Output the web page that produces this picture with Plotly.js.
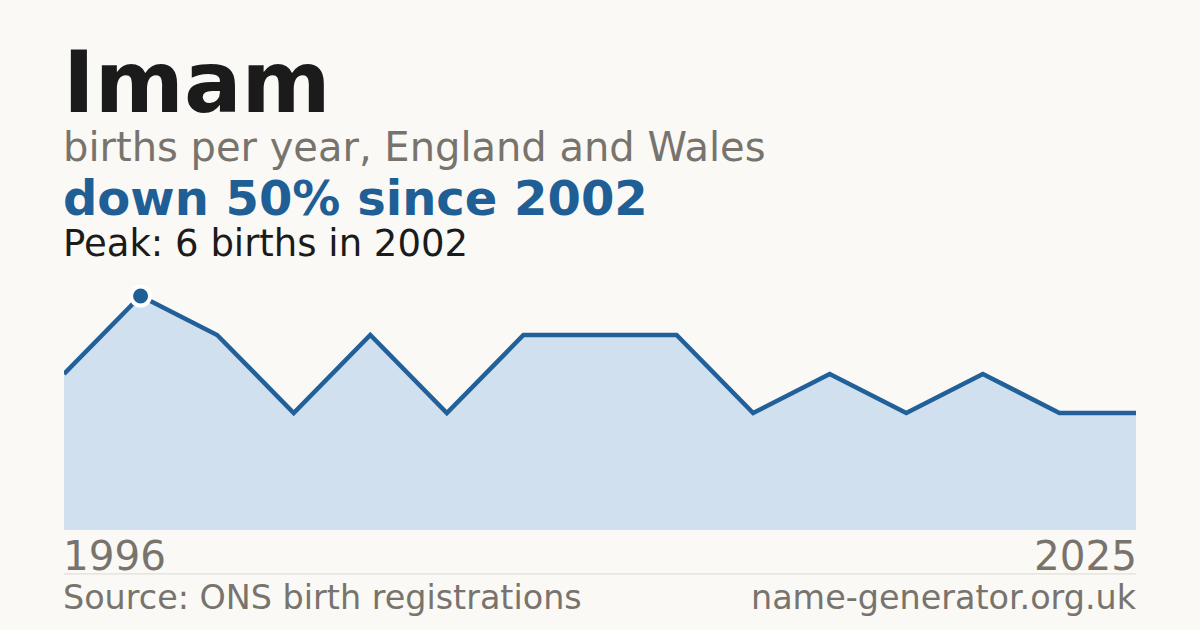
<!DOCTYPE html>
<html>
<head>
<meta charset="utf-8">
<script src="https://cdn.plot.ly/plotly-3.0.1.min.js"></script>
<style>
html,body{margin:0;padding:0;background:#faf9f5;}
#chart{width:1200px;height:630px;}
</style>
</head>
<body>
<div id="chart"></div>
<script>
// Data
const years = ["1996","2002","2004","2006","2008","2010","2012","2013","2014","2016","2018","2020","2022","2024","2025"];
const births = [4, 6, 5, 3, 5, 3, 5, 5, 5, 3, 4, 3, 4, 3, 3];
const peakYear = "2002";
const peakValue = 6;
const firstLabel = "1996";
const lastLabel = "2025";

const BG = "#faf9f5";
const BLUE = "#1f5f96";
const GRAY = "#78746d";
const FONT = "DejaVu Sans, sans-serif";

const traces = [
  {
    x: years, y: births, type: "scatter", mode: "lines",
    line: {color: "#22609a", width: 4.5, shape: "linear"},
    fill: "tozeroy", fillcolor: "#d0e0ef",
    hoverinfo: "skip"
  },
  {
    x: [peakYear], y: [peakValue], type: "scatter", mode: "markers",
    marker: {size: 19, color: BLUE, line: {color: "#ffffff", width: 4}},
    cliponaxis: false, hoverinfo: "skip"
  }
];

function ann(text, y, size, color, bold, x, xanchor) {
  return {
    text: bold ? "<b>" + text + "</b>" : text,
    xref: "paper", yref: "paper", x: x, y: y,
    xanchor: xanchor, yanchor: "bottom", showarrow: false,
    font: {family: FONT, size: size, color: color},
    borderpad: 0, borderwidth: 0,
    xshift: xanchor === "left" ? -1 : 1
  };
}

const layout = {
  width: 1200, height: 630,
  paper_bgcolor: BG, plot_bgcolor: BG,
  margin: {l: 64, r: 64, t: 257, b: 100},
  showlegend: false,
  xaxis: {type: "category", range: [0, births.length - 1], visible: false, fixedrange: true},
  yaxis: {range: [0, 7], visible: false, fixedrange: true},
  annotations: [
    ann("Imam", 1.458, 85.5, "#1b1b1b", true, 0, "left"),
    ann("births per year, England and Wales", 1.3205, 40, GRAY, false, 0, "left"),
    ann("down 50% since " + peakYear, 1.112, 48, BLUE, true, 0, "left"),
    ann("Peak: " + peakValue + " births in " + peakYear, 0.972, 37, "#1b1b1b", false, 0, "left"),
    ann(firstLabel, -0.183, 40.5, GRAY, false, 0, "left"),
    ann(lastLabel, -0.183, 40.5, GRAY, false, 1, "right"),
    ann("Source: ONS birth registrations", -0.3195, 33.4, GRAY, false, 0, "left"),
    ann("name-generator.org.uk", -0.3195, 33.4, GRAY, false, 1, "right")
  ],
  shapes: [
    {type: "line", xref: "paper", yref: "paper", x0: 0, x1: 1, y0: -0.161, y1: -0.161,
     line: {color: "#dcd9d2", width: 1}}
  ]
};

Plotly.newPlot("chart", traces, layout, {staticPlot: true, displayModeBar: false});
</script>
</body>
</html>
